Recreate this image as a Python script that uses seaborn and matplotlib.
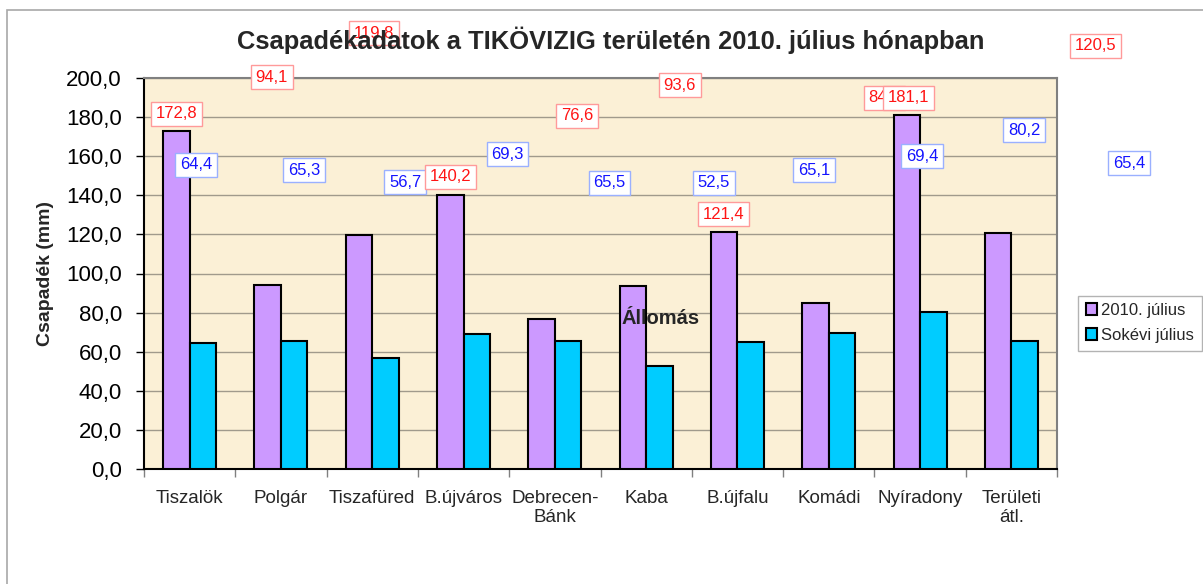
import pandas as pd
import seaborn as sns
import matplotlib.pyplot as plt
from matplotlib.patches import Patch, Rectangle
from matplotlib.ticker import FuncFormatter, FixedLocator

# data
stations = ['Tiszalök', 'Polgár', 'Tiszafüred', 'B.újváros', 'Debrecen-\nBánk',
            'Kaba', 'B.újfalu', 'Komádi', 'Nyíradony', 'Területi\nátl.']
july_2010 = [172.8, 94.1, 119.8, 140.2, 76.6, 93.6, 121.4, 84.9, 181.1, 120.5]
july_longterm = [64.4, 65.3, 56.7, 69.3, 65.5, 52.5, 65.1, 69.4, 80.2, 65.4]
series_names = ['2010. július', 'Sokévi július']

# where the (misplaced) data labels sit, in data coordinates
red_label_x = [-0.14, 0.90, 2.02, 2.86, 4.24, 5.37, 5.85, 7.61, 7.87, 9.92]
red_label_y = [181.6, 200.5, 223.0, 149.4, 180.6, 196.4, 130.4, 189.8, 189.8, 216.4]
blue_label_x = [0.07, 1.25, 2.36, 3.48, 4.60, 5.74, 6.84, 8.02, 9.14, 10.29]
blue_label_y = [155.5, 152.9, 146.8, 161.1, 146.3, 146.3, 152.9, 160.1, 173.4, 156.5]

colors = {'2010. július': '#CC99FF', 'Sokévi július': '#00CCFF'}

df = pd.DataFrame({
    'Állomás': stations * 2,
    'Csapadék': july_2010 + july_longterm,
    'Sorozat': [series_names[0]] * len(stations) + [series_names[1]] * len(stations),
})

sns.set_style('white')
plt.rcParams['font.family'] = ['Liberation Sans', 'DejaVu Sans']

W, H = 1203, 584
fig = plt.figure(figsize=(W / 100, H / 100), dpi=100)
ax = fig.add_axes([144 / W, (H - 469) / H, 913 / W, 391 / H])
ax.set_facecolor('#FBF0D6')

sns.barplot(data=df, x='Állomás', y='Csapadék', hue='Sorozat', palette=colors,
            saturation=1, width=0.58, edgecolor='black', linewidth=1.5, errorbar=None,
            legend=False, ax=ax, zorder=3)

# axes
ax.set_ylim(0, 200)
ax.set_xlim(-0.5, len(stations) - 0.5)
ax.set_yticks(range(0, 201, 20))
ax.yaxis.set_major_formatter(FuncFormatter(lambda v, p: f'{v:.1f}'.replace('.', ',')))
ax.yaxis.grid(True, color='#A09A8C', linewidth=1, zorder=0)
ax.set_axisbelow(True)
ax.tick_params(axis='y', left=True, length=6, width=1, pad=10, labelsize=16, colors='black')
ax.tick_params(axis='x', which='major', length=0, pad=15, labelsize=13.5)
ax.xaxis.set_minor_locator(FixedLocator([i - 0.5 for i in range(len(stations) + 1)]))
ax.tick_params(axis='x', which='minor', bottom=True, length=6, width=1, color='#808080')

for side in ['left', 'bottom']:
    ax.spines[side].set_color('black')
    ax.spines[side].set_linewidth(1.5)
for side in ['top', 'right']:
    ax.spines[side].set_color('#808080')
    ax.spines[side].set_linewidth(1.5)

ax.set_ylabel('Csapadék (mm)', fontsize=14, fontweight='bold')
ax.yaxis.set_label_coords((45 - 144) / 913, 0.5)
ax.yaxis.label.set_va('center')
ax.set_xlabel('')
# the category axis title sits inside the plot, in front of the bars
ax.text((661 - 144) / 913, (469 - 318) / 391, 'Állomás', transform=ax.transAxes,
        ha='center', va='center', fontsize=14.5, fontweight='bold', zorder=7)

# data labels
def fmt(v):
    return f'{v:.1f}'.replace('.', ',')

for v, x, y in zip(july_longterm, blue_label_x, blue_label_y):
    ax.text(x, y, fmt(v), ha='center', va='center', fontsize=12, color='#1414FF',
            bbox=dict(boxstyle='square,pad=0.28', fc='white', ec='#9AB0FF', lw=1),
            clip_on=False, zorder=6)
for v, x, y in zip(july_2010, red_label_x, red_label_y):
    ax.text(x, y, fmt(v), ha='center', va='center', fontsize=12, color='#FF1414',
            bbox=dict(boxstyle='square,pad=0.28', fc='white', ec='#FF9A9A', lw=1),
            clip_on=False, zorder=6)

# legend
handles = [Patch(facecolor=colors[n], edgecolor='black', linewidth=1.5) for n in series_names]
leg = fig.legend(handles, series_names, loc='center left',
                 bbox_to_anchor=(1078 / W, 1 - 323 / H), fontsize=12,
                 frameon=True, fancybox=False, handlelength=0.7, handleheight=0.7,
                 handletextpad=0.25, borderpad=0.45, labelspacing=0.6, borderaxespad=0)
leg.get_frame().set_edgecolor('#A0A0A0')
leg.get_frame().set_linewidth(1)

# outer chart frame
fig.add_artist(Rectangle((7 / W, -0.1), 1.2, 1 - 10 / H + 0.1, transform=fig.transFigure,
                         fill=False, edgecolor='#A8A8A8', linewidth=1.2))

fig.text(611 / W, 1 - 40 / H, 'Csapadékadatok a TIKÖVIZIG területén 2010. július hónapban',
         ha='center', va='center', fontsize=18.4, fontweight='bold', zorder=10)

plt.savefig('out.png', dpi=100)
